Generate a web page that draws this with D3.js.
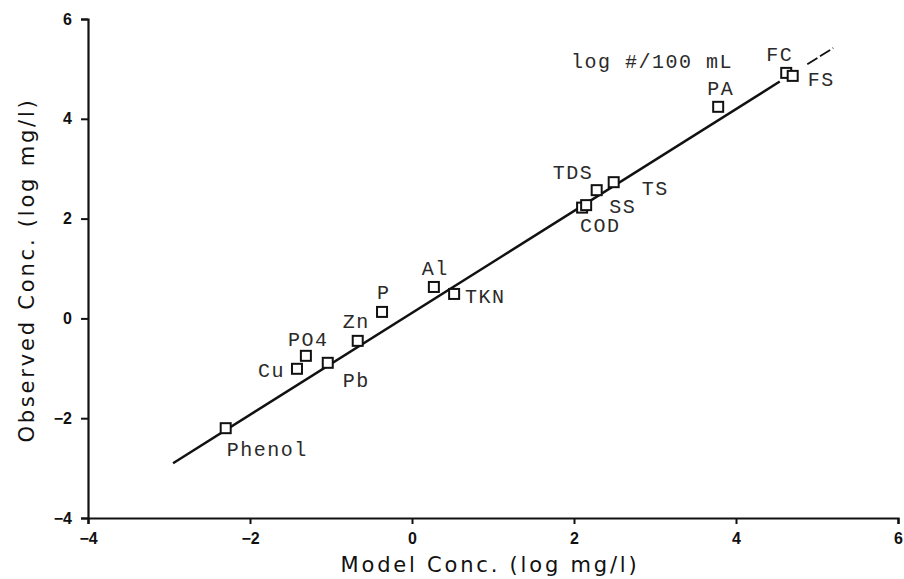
<!DOCTYPE html>
<html>
<head>
<meta charset="utf-8">
<script src="https://cdn.jsdelivr.net/npm/d3@7"></script>
<style>
  body { margin: 0; background: #fff; }
  .tick text { font-family: "Liberation Sans", Arial, sans-serif; font-weight: bold; font-size: 16px; fill: #111; }
  .axis-title { font-family: "DejaVu Sans", sans-serif; font-size: 21px; letter-spacing: 2.8px; fill: #111; }
  .pt-label { font-family: "Liberation Mono", "Courier New", monospace; font-size: 20px; letter-spacing: 1.5px; fill: #2a2a2a; }
</style>
</head>
<body>
<svg id="chart" width="904" height="579"></svg>
<script>
// constituents, model (x) vs observed (y), log units
const names = ["Phenol", "Cu", "PO4", "Pb", "Zn", "P", "Al", "TKN", "COD", "SS", "TDS", "TS", "PA", "FC", "FS"];
const modelConc = [-2.30, -1.42, -1.31, -1.04, -0.67, -0.37, 0.27, 0.52, 2.10, 2.15, 2.28, 2.49, 3.78, 4.62, 4.70];
const observedConc = [-2.20, -1.01, -0.75, -0.89, -0.45, 0.13, 0.63, 0.49, 2.22, 2.27, 2.57, 2.73, 4.24, 4.92, 4.86];

const xTicks = [-4, -2, 0, 2, 4, 6];
const yTicks = [-4, -2, 0, 2, 4, 6];

// fitted line y = a + b*x
const fitIntercept = 0.11;
const fitSlope = 1.021;
const fitSolid = [-2.95, 4.54];
const fitDashed = [4.88, 5.20];

// label placement (pixel offsets from the marker)
const labelOffsets = {
  Phenol: [1, 28], Cu: [-39, 8], PO4: [-18, -10], Pb: [15, 24], Zn: [-15, -13],
  P: [-5, -13], Al: [-12, -12], TKN: [11, 9], COD: [-2, 24], SS: [23, 8],
  TDS: [-44, -11], TS: [28, 13], PA: [-11, -12], FC: [-20, -12], FS: [15, 10]
};

const width = 904, height = 579;
const margin = { top: 19, right: 6, bottom: 61, left: 88 };

const svg = d3.select("#chart");

const x = d3.scaleLinear().domain([-4, 6]).range([margin.left, width - margin.right]);
const y = d3.scaleLinear().domain([-4, 6]).range([height - margin.bottom, margin.top]);

// axes
const xAxis = d3.axisBottom(x).tickValues(xTicks).tickSize(6).tickPadding(9)
  .tickFormat(d => d < 0 ? "\u2212" + Math.abs(d) : d);
const yAxis = d3.axisLeft(y).tickValues(yTicks).tickSize(7).tickPadding(9)
  .tickFormat(d => d < 0 ? "\u2212" + Math.abs(d) : d);

const gx = svg.append("g")
  .attr("transform", `translate(0,${height - margin.bottom})`)
  .call(xAxis);
const gy = svg.append("g")
  .attr("transform", `translate(${margin.left},0)`)
  .call(yAxis);

[gx, gy].forEach(g => {
  g.select(".domain").attr("stroke", "#111").attr("stroke-width", 2.2);
  g.selectAll(".tick line").attr("stroke", "#111").attr("stroke-width", 2);
});

// axis titles
svg.append("text")
  .attr("class", "axis-title")
  .attr("x", 490)
  .attr("y", 572)
  .attr("text-anchor", "middle")
  .text("Model Conc. (log mg/l)");

svg.append("text")
  .attr("class", "axis-title")
  .attr("transform", "translate(34,270) rotate(-90)")
  .attr("text-anchor", "middle")
  .text("Observed Conc. (log mg/l)");

// regression line
const fitY = v => fitIntercept + fitSlope * v;
svg.append("line")
  .attr("x1", x(fitSolid[0])).attr("y1", y(fitY(fitSolid[0])))
  .attr("x2", x(fitSolid[1])).attr("y2", y(fitY(fitSolid[1])))
  .attr("stroke", "#111").attr("stroke-width", 2.4);
svg.append("line")
  .attr("x1", x(fitDashed[0])).attr("y1", y(fitY(fitDashed[0])))
  .attr("x2", x(fitDashed[1])).attr("y2", y(fitY(fitDashed[1])))
  .attr("stroke", "#111").attr("stroke-width", 1.8)
  .attr("stroke-dasharray", "12,3");

// points
const pts = names.map((n, i) => ({ name: n, mx: modelConc[i], oy: observedConc[i] }));
const sq = 10;

svg.selectAll("rect.pt")
  .data(pts)
  .enter()
  .append("rect")
  .attr("class", "pt")
  .attr("x", d => x(d.mx) - sq / 2)
  .attr("y", d => y(d.oy) - sq / 2)
  .attr("width", sq)
  .attr("height", sq)
  .attr("fill", "#fff")
  .attr("stroke", "#111")
  .attr("stroke-width", 2);

svg.selectAll("text.pt-label")
  .data(pts)
  .enter()
  .append("text")
  .attr("class", "pt-label")
  .attr("x", d => x(d.mx) + labelOffsets[d.name][0])
  .attr("y", d => y(d.oy) + labelOffsets[d.name][1])
  .text(d => d.name);

// unit note for the bacteria counts
svg.append("text")
  .attr("class", "pt-label")
  .attr("x", 571)
  .attr("y", 68)
  .text("log #/100 mL");
</script>
</body>
</html>
